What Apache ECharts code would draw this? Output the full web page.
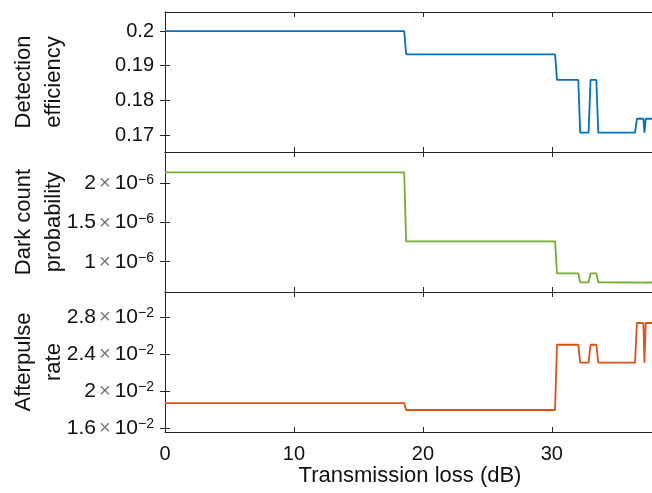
<!DOCTYPE html>
<html>
<head>
<meta charset="utf-8">
<script src="https://cdn.jsdelivr.net/npm/echarts@6/dist/echarts.min.js"></script>
<style>
  html, body { margin: 0; padding: 0; background: #fff; }
  #chart { width: 652px; height: 493px; }
</style>
</head>
<body>
<div id="chart"></div>
<script>
// Transmission loss (dB) at which each detector parameter was sampled
const lossDb = [0, 18.55, 18.7, 30.25, 30.4, 32.05, 32.2, 32.85, 33.0, 33.45, 33.6, 36.45, 36.6, 37.1, 37.18, 37.28, 38];
const efficiency = [0.2, 0.2, 0.1933, 0.1933, 0.1859, 0.1859, 0.1707, 0.1707, 0.1859, 0.1859, 0.1707, 0.1707, 0.1747, 0.1747, 0.1707, 0.1747, 0.1747];
const darkCount = [2.14e-6, 2.14e-6, 1.26e-6, 1.26e-6, 0.852e-6, 0.852e-6, 0.738e-6, 0.738e-6, 0.852e-6, 0.852e-6, 0.738e-6, 0.735e-6, 0.733e-6, 0.733e-6, 0.735e-6, 0.735e-6, 0.735e-6];
const afterpulse = [0.0187, 0.0187, 0.01795, 0.01795, 0.0250, 0.0250, 0.02306, 0.02306, 0.0250, 0.0250, 0.02306, 0.02306, 0.02735, 0.02735, 0.02306, 0.02735, 0.02735];

// Tick values
const xTicks = [0, 10, 20, 30];
const effTicks = [0.17, 0.18, 0.19, 0.2];
const darkTicks = [1e-6, 1.5e-6, 2e-6];
const apTicks = [0.016, 0.020, 0.024, 0.028];

const FONT = "'Liberation Sans', Arial, Helvetica, sans-serif";
const AXIS = '#262626';
const TEXT = '#111';

const panels = [
  { name: 'Detection\nefficiency', values: efficiency, color: '#0072BD', ticks: effTicks, min: 0.1651, max: 0.2055, exp: null },
  { name: 'Dark count\nprobability', values: darkCount, color: '#77AC30', ticks: darkTicks, min: 0.614e-6, max: 2.40e-6, exp: -6 },
  { name: 'Afterpulse\nrate', values: afterpulse, color: '#D95319', ticks: apTicks, min: 0.01557, max: 0.0307, exp: -2 }
];

const plotLeft = 165, plotTop = 12, plotWidth = 490, panelHeight = 140;

function sciLabel(v, exp) {
  const m = +(v / Math.pow(10, exp)).toFixed(2);
  return '{m|' + m + '}{t|×}{m|10}{s|−' + (-exp) + '}';
}

const richStyles = {
  m: { fontSize: 21, fontFamily: FONT, color: TEXT, lineHeight: 21, verticalAlign: 'bottom', padding: [6, 0, 0, 0] },
  t: { fontSize: 20, fontFamily: FONT, color: '#777', lineHeight: 21, verticalAlign: 'bottom', padding: [6, 4, 0, 3] },
  s: { fontSize: 14, fontFamily: FONT, color: TEXT, lineHeight: 14, verticalAlign: 'top' }
};

const grid = [], xAxis = [], yAxis = [], series = [];

panels.forEach((p, i) => {
  grid.push({ left: plotLeft, top: plotTop + i * panelHeight, width: plotWidth, height: panelHeight,
              containLabel: false, outerBoundsMode: 'none' });
  const isLast = i === panels.length - 1;
  const xBase = {
    gridIndex: i, type: 'value', min: 0, max: 38, interval: 10,
    axisLine: { show: true, lineStyle: { color: AXIS, width: 1 } },
    axisTick: { show: true, inside: true, length: 5, lineStyle: { color: AXIS, width: 1 }, customValues: xTicks },
    splitLine: { show: false }
  };
  xAxis.push(Object.assign({}, xBase, {
    position: 'bottom',
    axisLabel: { show: isLast, customValues: xTicks, fontSize: 20, fontFamily: FONT, color: TEXT, margin: 12 },
    name: isLast ? 'Transmission loss (dB)' : '',
    nameLocation: 'middle', nameGap: 33, nameMoveOverlap: false,
    nameTextStyle: { fontSize: 22, fontFamily: FONT, color: TEXT }
  }));
  xAxis.push(Object.assign({}, xBase, { position: 'top', axisLabel: { show: false } }));

  const yBase = {
    gridIndex: i, type: 'value', min: p.min, max: p.max,
    axisLine: { show: true, lineStyle: { color: AXIS, width: 1 } },
    axisTick: { show: true, inside: true, length: 5, lineStyle: { color: AXIS, width: 1 }, customValues: p.ticks },
    splitLine: { show: false }
  };
  yAxis.push(Object.assign({}, yBase, {
    position: 'left',
    axisLabel: {
      show: true, customValues: p.ticks, margin: 11, fontSize: 20, fontFamily: FONT, color: TEXT,
      formatter: p.exp === null ? (v => String(+v.toFixed(2))) : (v => sciLabel(v, p.exp)),
      rich: richStyles
    },
    name: p.name, nameLocation: 'middle', nameRotate: 90, nameGap: 96, nameMoveOverlap: false,
    nameTextStyle: { fontSize: 22, fontFamily: FONT, color: TEXT, lineHeight: 30, align: 'center' }
  }));
  yAxis.push(Object.assign({}, yBase, { position: 'right', axisLabel: { show: false } }));

  series.push({
    type: 'line', xAxisIndex: i * 2, yAxisIndex: i * 2,
    data: lossDb.map((x, k) => [x, p.values[k]]),
    showSymbol: false, symbol: 'none',
    lineStyle: { color: p.color, width: 1.8 },
    itemStyle: { color: p.color },
    animation: false, clip: true
  });
});

const chart = echarts.init(document.getElementById('chart'), null, { renderer: 'canvas' });
chart.setOption({ animation: false, backgroundColor: '#fff', grid, xAxis, yAxis, series });
</script>
</body>
</html>
